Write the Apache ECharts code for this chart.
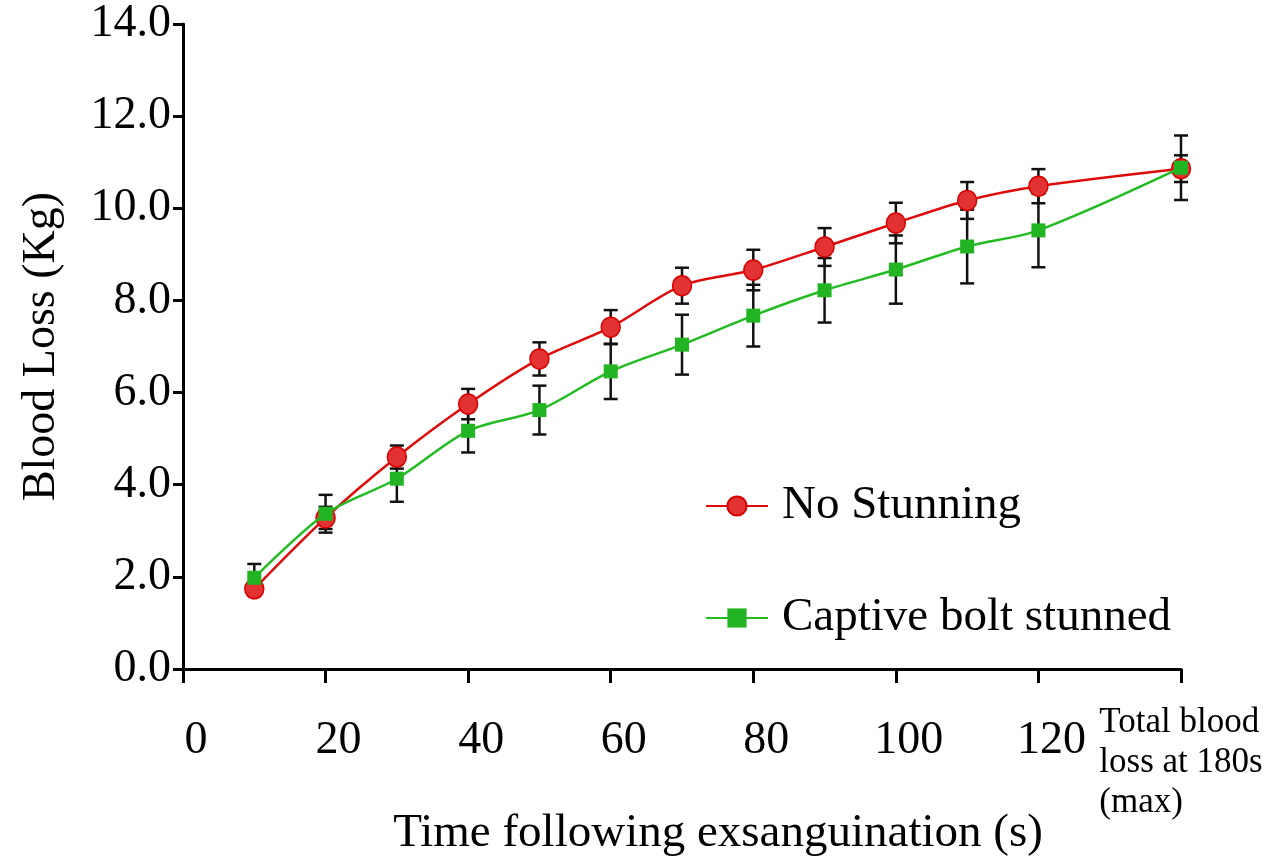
<!DOCTYPE html>
<html>
<head>
<meta charset="utf-8">
<script src="https://cdn.jsdelivr.net/npm/echarts@6/dist/echarts.min.js"></script>
<style>
  html, body { margin: 0; padding: 0; background: #fff; }
  #chart { width: 1276px; height: 865px; }
</style>
</head>
<body>
<div id="chart"></div>
<script>
// time points (s); 140 stands for "total blood loss at 180s"
var times = [10, 20, 30, 40, 50, 60, 70, 80, 90, 100, 110, 120, 140];
var xTicks = [0, 20, 40, 60, 80, 100, 120, 140];
var yTicks = [0, 2, 4, 6, 8, 10, 12, 14];

// No Stunning: mean and SEM (kg)
var noStunMean = [1.74, 3.28, 4.60, 5.75, 6.73, 7.42, 8.32, 8.66, 9.16, 9.68, 10.17, 10.48, 10.86];
var noStunErr  = [0.10, 0.24, 0.25, 0.33, 0.36, 0.37, 0.39, 0.44, 0.41, 0.44, 0.40, 0.37, 0.29];

// Captive bolt stunned: mean and SEM (kg)
var boltMean = [1.98, 3.37, 4.13, 5.17, 5.62, 6.46, 7.04, 7.67, 8.22, 8.67, 9.17, 9.52, 10.88];
var boltErr  = [0.30, 0.41, 0.50, 0.47, 0.53, 0.60, 0.65, 0.67, 0.70, 0.74, 0.80, 0.80, 0.70];

var FONT = '"Liberation Serif", "DejaVu Serif", serif';

function pairs(means) {
    return times.map(function (t, i) { return [t, means[i]]; });
}
function bars(means, errs) {
    return times.map(function (t, i) { return [t, means[i] - errs[i], means[i] + errs[i]]; });
}

// error bar with caps, drawn under the markers
function renderErr(params, api) {
    var x = api.value(0);
    var lo = api.coord([x, api.value(1)]);
    var hi = api.coord([x, api.value(2)]);
    var cap = 7;
    var st = { stroke: '#111', lineWidth: 2.5 };
    return {
        type: 'group',
        children: [
            { type: 'line', shape: { x1: lo[0], y1: lo[1], x2: hi[0], y2: hi[1] }, style: st },
            { type: 'line', shape: { x1: hi[0] - cap, y1: hi[1], x2: hi[0] + cap, y2: hi[1] }, style: st },
            { type: 'line', shape: { x1: lo[0] - cap, y1: lo[1], x2: lo[0] + cap, y2: lo[1] }, style: st }
        ]
    };
}

var myChart = echarts.init(document.getElementById('chart'));

var option = {
    backgroundColor: '#fff',
    animation: false,
    textStyle: { fontFamily: FONT },
    grid: { left: 183, right: 95, top: 24, bottom: 196, containLabel: false, outerBoundsMode: 'none' },
    legend: {
        orient: 'vertical',
        left: 700,
        top: 476,
        itemWidth: 62,
        itemHeight: 24,
        itemGap: 62,
        data: ['No Stunning', 'Captive bolt stunned'],
        textStyle: { fontFamily: FONT, fontSize: 47, color: '#000', lineHeight: 50, padding: [0, 0, 0, 9] }
    },
    xAxis: {
        type: 'value',
        min: 0,
        max: 140,
        interval: 20,
        name: 'Time following exsanguination (s)',
        nameLocation: 'middle',
        nameGap: 141,
        nameMoveOverlap: false,
        nameTextStyle: { fontFamily: FONT, fontSize: 47, color: '#000', padding: [0, 0, 0, 72] },
        splitLine: { show: false },
        axisLine: { lineStyle: { color: '#000', width: 3 } },
        axisTick: { show: true, length: 14, lineStyle: { color: '#000', width: 3 } },
        axisLabel: {
            margin: 34,
            color: '#000',
            formatter: function (v) {
                if (v === 140) return '{t|Total blood}\n{t|loss at 180s}\n{t|(max)}';
                return '{n|' + v + '}';
            },
            rich: {
                n: { fontFamily: FONT, fontSize: 46, lineHeight: 76, color: '#000', padding: [0, 0, 0, 26] },
                t: { fontFamily: FONT, fontSize: 35, lineHeight: 40, color: '#000', align: 'left' }
            }
        }
    },
    yAxis: {
        type: 'value',
        min: 0,
        max: 14,
        interval: 2,
        name: 'Blood Loss (Kg)',
        nameLocation: 'middle',
        nameGap: 118,
        nameTextStyle: { fontFamily: FONT, fontSize: 46, color: '#000' },
        splitLine: { show: false },
        axisLine: { show: true, lineStyle: { color: '#000', width: 3 } },
        axisTick: { show: true, length: 10, lineStyle: { color: '#000', width: 3 } },
        axisLabel: {
            margin: 12,
            fontFamily: FONT,
            fontSize: 46,
            color: '#000',
            formatter: function (v) { return v.toFixed(1); }
        }
    },
    series: [
        {
            name: 'err-no',
            type: 'custom',
            renderItem: renderErr,
            encode: { x: 0, y: [1, 2] },
            data: bars(noStunMean, noStunErr),
            z: 1,
            silent: true
        },
        {
            name: 'err-bolt',
            type: 'custom',
            renderItem: renderErr,
            encode: { x: 0, y: [1, 2] },
            data: bars(boltMean, boltErr),
            z: 1,
            silent: true
        },
        {
            name: 'No Stunning',
            type: 'line',
            smooth: 0.3,
            symbol: 'circle',
            symbolSize: [19, 20],
            showSymbol: true,
            data: pairs(noStunMean),
            lineStyle: { color: '#e00a0a', width: 2.5 },
            itemStyle: { color: '#e23232', borderColor: '#d80000', borderWidth: 1.5 },
            z: 3
        },
        {
            name: 'Captive bolt stunned',
            type: 'line',
            smooth: 0.3,
            symbol: 'rect',
            symbolSize: 14,
            showSymbol: true,
            data: pairs(boltMean),
            lineStyle: { color: '#22bb22', width: 2.5 },
            itemStyle: { color: '#22b422', borderColor: '#22b422', borderWidth: 0 },
            z: 4
        }
    ]
};

myChart.setOption(option);
window.addEventListener('resize', function () {
    myChart.resize();
});
</script>
</body>
</html>
